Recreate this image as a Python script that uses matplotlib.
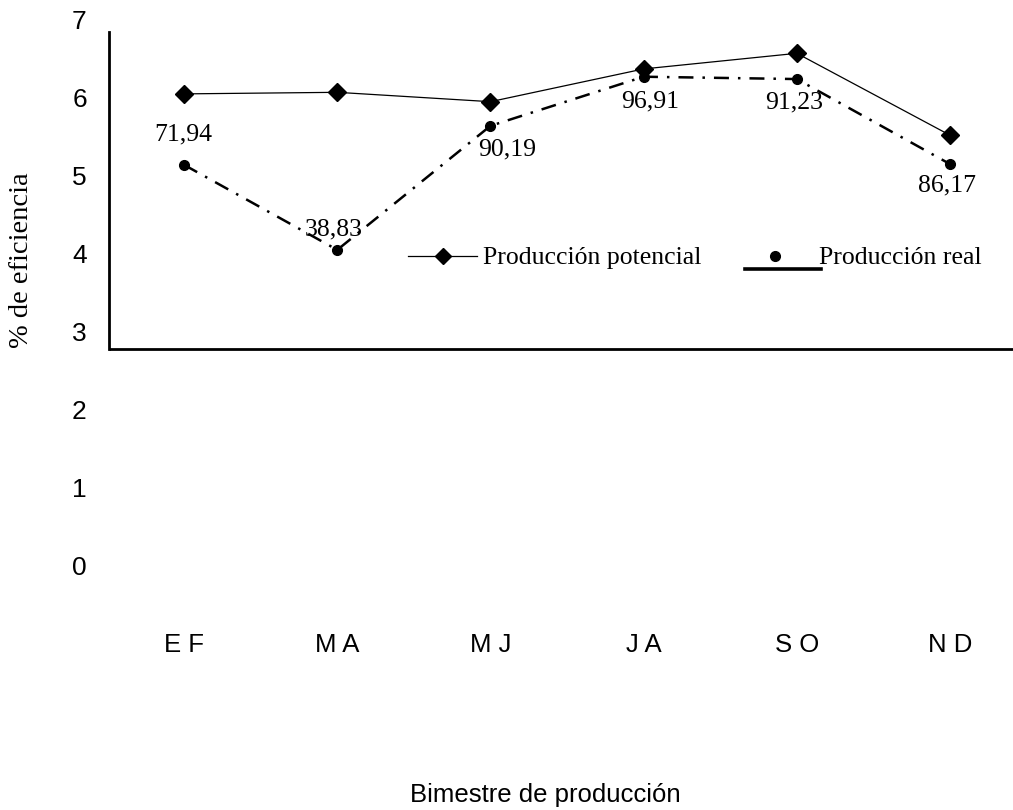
import matplotlib
matplotlib.use('Agg')
import matplotlib.pyplot as plt
from matplotlib.lines import Line2D
from matplotlib.legend_handler import HandlerBase

# Bimestres y valores de producción
bimestres = ['E F', 'M A', 'M J', 'J A', 'S O', 'N D']
potencial = [6.04, 6.06, 5.94, 6.36, 6.56, 5.51]
real = [5.13, 4.04, 5.63, 6.26, 6.23, 5.14]
eficiencia = ['71,94', '38,83', '90,19', '96,91', '91,23', '86,17']
# desplazamiento de cada etiqueta respecto a su punto (pixeles)
offsets = [(-1, 30), (-4, 20), (17, -24), (6, -25), (-3, -23), (-3, -21)]

sans = 'Liberation Sans'
serif = 'Liberation Serif'
fs = 18.5


class RealHandler(HandlerBase):
    # linea gruesa abajo y el punto encima, como en la leyenda original
    def create_artists(self, legend, orig, xd, yd, w, h, fontsize, trans):
        line = Line2D([-xd, -xd + w + 5], [-yd - 0.25 * h] * 2, color='black', lw=2.6)
        dot = Line2D([-xd + w / 2 - 3], [-yd + h / 2], marker='o', ms=7,
                     color='black', ls='none')
        line.set_transform(trans)
        dot.set_transform(trans)
        return [line, dot]


fig = plt.figure(figsize=(10.13, 8.1), dpi=100)
ax = fig.add_axes([109 / 1013, 1 - 620 / 810, 1 - 109 / 1013, (620 - 3.4) / 810])

x = list(range(len(bimestres)))
ax.plot(x, potencial, color='black', lw=0.9, marker='D', ms=9.5,
        label='Producción potencial')
ax.plot(x, real, color='black', lw=1.8, ls=(0, (6, 3.6, 1, 3.6)),
        marker='o', ms=7, label='Producción real')

for xi, yi, txt, off in zip(x, real, eficiencia, offsets):
    ax.annotate(txt, (xi, yi), xytext=off, textcoords='offset pixels',
                ha='center', va='center', fontsize=fs, family=serif)

ax.set_xlim(-0.49, 5.411)
ax.set_ylim(-0.705, 7.2)

# ejes dibujados a mano en y = 2.77
for s in ['top', 'right', 'bottom']:
    ax.spines[s].set_visible(False)
ax.spines['left'].set_bounds(2.77, 6.83)
ax.spines['left'].set_linewidth(2.0)
ax.axhline(2.77, color='black', lw=2.0, solid_capstyle='butt')

ax.set_yticks(range(8))
ax.set_yticklabels([str(i) for i in range(8)], fontsize=19, family=sans)
ax.set_xticks(x)
ax.set_xticklabels(bimestres, fontsize=fs, family=sans)
ax.tick_params(axis='y', length=0, pad=16)
ax.tick_params(axis='x', length=0, pad=9.5)

fig.text(545 / 1013, 1 - 795 / 810, 'Bimestre de producción', ha='center',
         va='center', fontsize=fs, family=sans)
fig.text(22 / 1013, 1 - 260 / 810, '% de eficiencia', ha='center', va='center',
         rotation=90, fontsize=20.5, family=serif)

h1 = Line2D([], [], color='black', lw=0.9, marker='D', ms=8)
h2 = Line2D([], [], color='black')
leg = ax.legend([h1, h2], ['Producción potencial', 'Producción real'],
                handler_map={h2: RealHandler()}, ncol=2, frameon=False,
                loc='center left', bbox_to_anchor=(408 / 1013, 1 - 258 / 810),
                bbox_transform=fig.transFigure, borderpad=0, borderaxespad=0,
                handlelength=2.7, handletextpad=0.2, columnspacing=1.7,
                prop={'family': serif, 'size': fs})

fig.savefig('out.png', dpi=100)
